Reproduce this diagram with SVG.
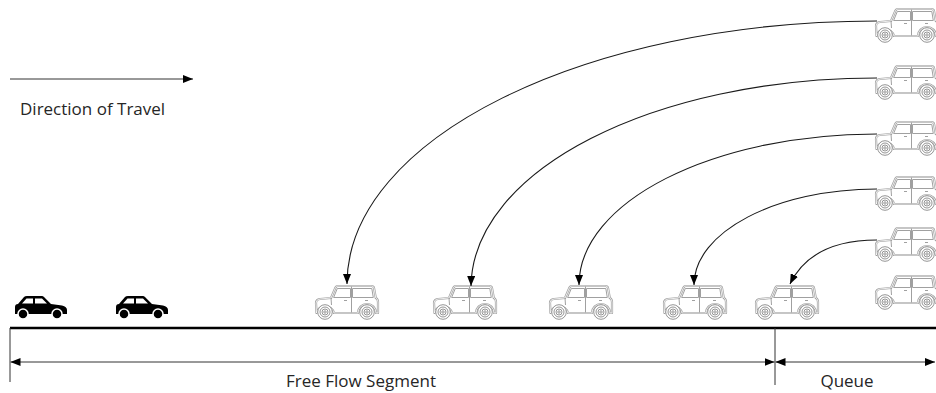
<svg xmlns="http://www.w3.org/2000/svg" xmlns:xlink="http://www.w3.org/1999/xlink" width="936" height="393" viewBox="0 0 936 393">
  <style>
    .label { font-family: "Open Sans", "Liberation Sans", sans-serif; font-size: 17px; fill: #262626; }
    .conn { fill: none; stroke: #1a1a1a; stroke-width: 1.1; }
    .dim { fill: none; stroke: #333; stroke-width: 1; }
    .road { stroke: #000; stroke-width: 2.6; }
    .body-out { fill: #fff; stroke: #a0a0a0; stroke-width: 2.2; stroke-linejoin: round; }
    .body-in { fill: none; stroke: #fff; stroke-width: 0.8; stroke-linejoin: round; }
    .trim { fill: none; stroke: #a0a0a0; stroke-width: 1; }
    .wheel { fill: #fff; stroke: #959595; stroke-width: 1; }
  </style>
  <defs>
    <marker id="arrow" viewBox="0 0 10 8" refX="10" refY="4" markerWidth="10" markerHeight="8" markerUnits="userSpaceOnUse" orient="auto-start-reverse">
      <path d="M0,0 L10,4 L0,8 Z" fill="#000"/>
    </marker>

    <!-- light outline sedan, facing left, 64 x 35 -->
    <symbol id="outlineCar" viewBox="0 0 64 36" width="64" height="36" overflow="visible">
      <path id="carShell" class="body-out" d="M1.5,28 L1,18 Q1,14.5 5,14 L16,13 L20.5,2.5 Q21.2,1 23,1 L56.5,1 Q58.6,1 59,3 L60.8,13 Q63,14 63,17 L63,28 L61,28 A9,9 0 0 0 43,28 L19,28 A9,9 0 0 0 1.5,28 Z"/>
      <path class="body-in" d="M1.5,28 L1,18 Q1,14.5 5,14 L16,13 L20.5,2.5 Q21.2,1 23,1 L56.5,1 Q58.6,1 59,3 L60.8,13 Q63,14 63,17 L63,28 L61,28 A9,9 0 0 0 43,28 L19,28 A9,9 0 0 0 1.5,28 Z"/>
      <path class="trim" d="M22.3,3.5 L35.5,3.5 L35.5,12.5 L18.6,12.5 Z M37.5,3.5 L56.8,3.5 L58.3,12.5 L37.5,12.5 Z M36.5,1.5 L36.5,27.5 M29,15.5 L32,15.5 M50,15.5 L53,15.5 M16,13 L16.5,20"/>
      <circle class="wheel" cx="10" cy="27" r="7.3"/>
      <circle class="wheel" cx="10" cy="27" r="5"/>
      <circle class="wheel" cx="10" cy="27" r="3"/>
      <circle class="wheel" cx="10" cy="27" r="1.2"/>
      <circle class="wheel" cx="52" cy="27" r="7.3"/>
      <circle class="wheel" cx="52" cy="27" r="5"/>
      <circle class="wheel" cx="52" cy="27" r="3"/>
      <circle class="wheel" cx="52" cy="27" r="1.2"/>
    </symbol>

    <!-- solid hatchback, facing right, 52 x 24 -->
    <symbol id="solidCar" viewBox="0 0 52 24" width="52" height="24" overflow="visible">
      <path d="M0,18 L0,11 Q0,8 3,8 L9,1 Q10,0 12,0 L27,0 Q28,0 29,1 L36,8 L47,9.5 Q52,10.5 52,14 L52,18 Z" fill="#000"/>
      <path d="M11.5,2.5 L18,2.5 L18,7.5 L7,7.5 Z M20,2.5 L27,2.5 L32,7.5 L20,7.5 Z" fill="#fff"/>
      <circle cx="8" cy="18" r="5" fill="#000" stroke="#fff" stroke-width="1.5"/>
      <circle cx="42" cy="18" r="5" fill="#000" stroke="#fff" stroke-width="1.5"/>
    </symbol>
  </defs>

  <rect width="936" height="393" fill="#fff"/>

  <!-- legend -->
  <g id="direction">
    <line class="dim" x1="10" y1="79" x2="193" y2="79" marker-end="url(#arrow)"/>
    <text class="label" x="20" y="115">Direction of Travel</text>
  </g>

  <!-- roadway -->
  <g id="road">
    <line class="road" x1="10" y1="328" x2="936" y2="328"/>
  </g>

  <!-- free-flow vehicles -->
  <g id="car-solid-1"><use xlink:href="#solidCar" x="15" y="296"/></g>
  <g id="car-solid-2"><use xlink:href="#solidCar" x="116" y="296"/></g>

  <!-- vehicles released from the queue -->
  <g id="car-flow-1"><use xlink:href="#outlineCar" x="315" y="285"/></g>
  <g id="car-flow-2"><use xlink:href="#outlineCar" x="433" y="285"/></g>
  <g id="car-flow-3"><use xlink:href="#outlineCar" x="549" y="285"/></g>
  <g id="car-flow-4"><use xlink:href="#outlineCar" x="663" y="285"/></g>
  <g id="car-flow-5"><use xlink:href="#outlineCar" x="755" y="285"/></g>

  <!-- queued vehicles -->
  <g id="car-queue-1"><use xlink:href="#outlineCar" x="875" y="8"/></g>
  <g id="car-queue-2"><use xlink:href="#outlineCar" x="875" y="65"/></g>
  <g id="car-queue-3"><use xlink:href="#outlineCar" x="875" y="121"/></g>
  <g id="car-queue-4"><use xlink:href="#outlineCar" x="875" y="176"/></g>
  <g id="car-queue-5"><use xlink:href="#outlineCar" x="875" y="227"/></g>
  <g id="car-queue-6"><use xlink:href="#outlineCar" x="875" y="275"/></g>

  <!-- release paths -->
  <g id="connectors">
    <path class="conn" d="M877,21 C584,21 347,139 347,284" marker-end="url(#arrow)"/>
    <path class="conn" d="M877,78 C653,78 473,170 471,286" marker-end="url(#arrow)"/>
    <path class="conn" d="M877,134 C712,134 579,202 579,285" marker-end="url(#arrow)"/>
    <path class="conn" d="M877,189 C776,189 694,232 694,285" marker-end="url(#arrow)"/>
    <path class="conn" d="M877,240 C840,240 806,251 790,284" marker-end="url(#arrow)"/>
  </g>

  <!-- segment dimensions -->
  <g id="dimensions">
    <line class="dim" x1="10" y1="328" x2="10" y2="382"/>
    <line class="dim" x1="775" y1="328" x2="775" y2="385"/>
    <line class="dim" x1="10.5" y1="362" x2="774.5" y2="362" marker-start="url(#arrow)" marker-end="url(#arrow)"/>
    <line class="dim" x1="775.5" y1="362" x2="935" y2="362" marker-start="url(#arrow)" marker-end="url(#arrow)"/>
    <text class="label" x="361" y="387" text-anchor="middle">Free Flow Segment</text>
    <text class="label" x="847" y="387" text-anchor="middle">Queue</text>
  </g>
</svg>
